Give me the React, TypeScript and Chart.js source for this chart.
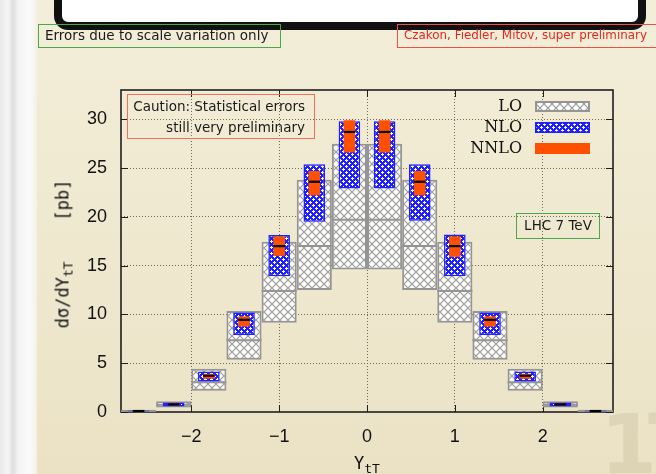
import { useEffect, useRef } from 'react';
import { Chart, registerables } from 'chart.js';

Chart.register(...registerables);

// Rapidity bins of the top-pair (bin centres, width 0.4)
const binCenters = [-2.6, -2.2, -1.8, -1.4, -1.0, -0.6, -0.2, 0.2, 0.6, 1.0, 1.4, 1.8, 2.2, 2.6];

// LO: scale-variation band and central value [pb]
const loLow = [0.02, 0.47, 2.18, 5.35, 9.14, 12.5, 14.6, 14.6, 12.5, 9.14, 5.35, 2.18, 0.47, 0.02];
const loCentral = [0.1, 0.75, 3.05, 7.35, 12.4, 17.0, 19.7, 19.7, 17.0, 12.4, 7.35, 3.05, 0.75, 0.1];
const loHigh = [0.22, 1.09, 4.42, 10.35, 17.45, 23.8, 27.5, 27.5, 23.8, 17.45, 10.35, 4.42, 1.09, 0.22];

// NLO: scale-variation band [pb]
const nloLow = [0.04, 0.57, 3.13, 7.9, 13.9, 19.5, 22.9, 22.9, 19.6, 13.9, 7.9, 3.13, 0.57, 0.04];
const nloHigh = [0.16, 0.98, 4.16, 10.2, 18.15, 25.4, 29.8, 29.8, 25.4, 18.2, 10.2, 4.16, 0.98, 0.16];

// NNLO: scale-variation band and central value [pb]
const nnloLow = [0.08, 0.7, 3.41, 8.76, 16.0, 22.2, 26.6, 26.6, 22.2, 15.9, 8.76, 3.41, 0.7, 0.08];
const nnloCentral = [0.1, 0.78, 3.72, 9.45, 17.0, 23.6, 28.7, 28.7, 23.6, 17.0, 9.45, 3.72, 0.78, 0.1];
const nnloHigh = [0.12, 0.86, 3.92, 9.8, 18.0, 24.7, 29.9, 29.9, 24.7, 18.0, 9.8, 3.92, 0.86, 0.12];

const xTicks = [-2, -1, 0, 1, 2];
const yTicks = [0, 5, 10, 15, 20, 25, 30];

const LO_FRAC = 1;
const NLO_FRAC = 0.615;
const NNLO_FRAC = 0.33;

const ORANGE = '#ff5000';
const BLUE = '#1f1fff';
const GREY = '#959595';

const binWidth = binCenters[1] - binCenters[0];

function halfWidthPx(chart: any, frac: number) {
  const s = chart.scales.x;
  if (!s) return 0;
  return (Math.abs(s.getPixelForValue(binWidth) - s.getPixelForValue(0)) * frac) / 2;
}

const bars = (lo: number[], hi: number[]) => binCenters.map((x, i) => ({ x, y: [lo[i], hi[i]] }));
const points = (v: number[]) => binCenters.map((x, i) => ({ x, y: v[i] }));

function makeCrossHatch(): CanvasPattern | string {
  const t = document.createElement('canvas');
  t.width = 8;
  t.height = 8;
  const c = t.getContext('2d');
  if (!c) return '#fff';
  c.fillStyle = '#fcfcfa';
  c.fillRect(0, 0, 8, 8);
  c.strokeStyle = '#9c9c9c';
  c.lineWidth = 1.2;
  c.beginPath();
  c.moveTo(-1, -1);
  c.lineTo(9, 9);
  c.moveTo(9, -1);
  c.lineTo(-1, 9);
  c.stroke();
  return c.createPattern(t, 'repeat') || '#fff';
}

function makeDotted(): CanvasPattern | string {
  const t = document.createElement('canvas');
  t.width = 6;
  t.height = 6;
  const c = t.getContext('2d');
  if (!c) return BLUE;
  c.fillStyle = BLUE;
  c.fillRect(0, 0, 6, 6);
  c.fillStyle = '#ffffff';
  c.fillRect(1, 0, 1, 3);
  c.fillRect(0, 1, 3, 1);
  c.fillRect(4, 3, 1, 3);
  c.fillRect(3, 4, 3, 1);
  return c.createPattern(t, 'repeat') || BLUE;
}

// Plot frame with inward tick marks on all four sides
const framePlugin = {
  id: 'gpFrame',
  beforeDatasetsDraw(chart: any) {
    const { ctx, chartArea: a, scales } = chart;
    ctx.save();
    ctx.strokeStyle = '#1e1e1e';
    ctx.lineWidth = 1;
    const t = 7;
    ctx.beginPath();
    for (const v of yTicks) {
      const y = Math.round(scales.y.getPixelForValue(v)) + 0.5;
      ctx.moveTo(a.left, y);
      ctx.lineTo(a.left + t, y);
      ctx.moveTo(a.right, y);
      ctx.lineTo(a.right - t, y);
    }
    for (const v of xTicks) {
      const x = Math.round(scales.x.getPixelForValue(v)) + 0.5;
      ctx.moveTo(x, a.bottom);
      ctx.lineTo(x, a.bottom - t);
      ctx.moveTo(x, a.top);
      ctx.lineTo(x, a.top + t);
    }
    ctx.stroke();
    ctx.lineWidth = 1.6;
    ctx.strokeRect(a.left, a.top, a.right - a.left, a.bottom - a.top);
    ctx.restore();
  },
};

function makeLegendPlugin(loFill: any, nloFill: any) {
  return {
    id: 'gpLegend',
    afterDraw(chart: any) {
      const { ctx, chartArea: a } = chart;
      const rows = [
        { label: 'LO', fill: loFill, stroke: GREY, lw: 2 },
        { label: 'NLO', fill: nloFill, stroke: BLUE, lw: 1.5 },
        { label: 'NNLO', fill: ORANGE, stroke: null, lw: 0 },
      ];
      const textRight = a.right - 91;
      const swLeft = a.right - 78;
      const swW = 55;
      const swH = 11;
      ctx.save();
      ctx.font = '16px "DejaVu Serif"';
      ctx.textAlign = 'right';
      ctx.textBaseline = 'middle';
      ctx.fillStyle = '#111';
      rows.forEach((r, i) => {
        const cy = a.top + 16 + i * 21;
        ctx.fillText(r.label, textRight, cy + 1);
        const y0 = Math.round(cy - swH / 2);
        ctx.fillStyle = r.fill;
        ctx.fillRect(swLeft, y0, swW, swH);
        if (r.stroke) {
          ctx.strokeStyle = r.stroke;
          ctx.lineWidth = r.lw;
          ctx.strokeRect(swLeft + r.lw / 2, y0 + r.lw / 2, swW - r.lw, swH - r.lw);
        }
        ctx.fillStyle = '#111';
      });
      ctx.restore();
    },
  };
}

const boxText = {
  position: 'absolute' as const,
  boxSizing: 'border-box' as const,
  fontFamily: '"DejaVu Sans", sans-serif',
  fontSize: '13.5px',
  whiteSpace: 'nowrap' as const,
  color: '#1a1a1a',
};

export default function App() {
  const canvasRef = useRef<HTMLCanvasElement>(null);

  useEffect(() => {
    const canvas = canvasRef.current;
    if (!canvas) return;
    const loFill = makeCrossHatch();
    const nloFill = makeDotted();

    const chart = new Chart(canvas, {
      type: 'bar',
      data: {
        datasets: [
          {
            type: 'line',
            label: 'NNLO central',
            data: points(nnloCentral),
            showLine: false,
            pointStyle: 'line',
            pointRadius: (c: any) => halfWidthPx(c.chart, NNLO_FRAC),
            pointBorderColor: '#000',
            pointBorderWidth: 2.2,
            order: 0,
          },
          {
            type: 'bar',
            label: 'NNLO',
            data: bars(nnloLow, nnloHigh),
            backgroundColor: ORANGE,
            borderWidth: 0,
            barPercentage: NNLO_FRAC,
            categoryPercentage: 1,
            grouped: false,
            inflateAmount: 0,
            order: 1,
          },
          {
            type: 'bar',
            label: 'NLO',
            data: bars(nloLow, nloHigh),
            backgroundColor: nloFill,
            borderColor: BLUE,
            borderWidth: 1.5,
            borderSkipped: false,
            barPercentage: NLO_FRAC,
            categoryPercentage: 1,
            grouped: false,
            inflateAmount: 0,
            order: 2,
          },
          {
            type: 'line',
            label: 'LO central',
            data: points(loCentral),
            showLine: false,
            pointStyle: 'line',
            pointRadius: (c: any) => halfWidthPx(c.chart, LO_FRAC),
            pointBorderColor: GREY,
            pointBorderWidth: 2,
            order: 3,
          },
          {
            type: 'bar',
            label: 'LO',
            data: bars(loLow, loHigh),
            backgroundColor: loFill,
            borderColor: GREY,
            borderWidth: 2,
            borderSkipped: false,
            barPercentage: LO_FRAC,
            categoryPercentage: 1,
            grouped: false,
            inflateAmount: 0,
            order: 4,
          },
        ] as any,
      },
      options: {
        responsive: false,
        animation: false,
        devicePixelRatio: 1,
        events: [],
        layout: { padding: { left: 0, top: 90, right: 43, bottom: 0 } },
        plugins: {
          legend: { display: false },
          tooltip: { enabled: false },
          title: { display: false },
        },
        scales: {
          x: {
            type: 'linear',
            min: -2.8,
            max: 2.8,
            offset: false,
            afterBuildTicks: (axis: any) => {
              axis.ticks = xTicks.map((v) => ({ value: v }));
            },
            afterFit: (axis: any) => {
              axis.height = 62;
            },
            grid: {
              offset: false,
              drawTicks: false,
              color: '#6f6a5e',
              lineWidth: 1,
            },
            border: { display: false, dash: [1, 2] },
            ticks: {
              padding: 14,
              maxRotation: 0,
              color: '#111',
              font: { family: '"Liberation Sans", sans-serif', size: 18 },
              callback: (v: any) => (Number(v) < 0 ? '\u2212' + Math.abs(Number(v)) : String(v)),
            },
          },
          y: {
            type: 'linear',
            min: 0,
            max: 33,
            afterBuildTicks: (axis: any) => {
              axis.ticks = yTicks.map((v) => ({ value: v }));
            },
            afterFit: (axis: any) => {
              axis.width = 121;
            },
            grid: {
              drawTicks: false,
              color: (c: any) => (c.tick && c.tick.value === 0 ? 'rgba(0,0,0,0)' : '#6f6a5e'),
              lineWidth: 1,
            },
            border: { display: false, dash: [1, 2] },
            ticks: {
              padding: 14,
              color: '#111',
              font: { family: '"Liberation Sans", sans-serif', size: 18 },
            },
          },
        },
      } as any,
      plugins: [framePlugin, makeLegendPlugin(loFill, nloFill)],
    });

    return () => chart.destroy();
  }, []);

  return (
    <div
      style={{
        position: 'absolute',
        left: 0,
        top: 0,
        width: 656,
        height: 474,
        overflow: 'hidden',
        background: 'linear-gradient(to bottom, #f3eed9 0%, #efe8cf 55%, #ebe2c5 100%)',
      }}
    >
      {/* slide edge on the left */}
      <div
        style={{
          position: 'absolute',
          left: 0,
          top: 0,
          width: 37,
          height: 474,
          background:
            'linear-gradient(to right, #e9e9e9 0px, #f5f5f5 8px, #dedede 13px, #f3f3f3 18px, #fbfbfb 30px, #f3f0e4 37px)',
        }}
      />
      {/* page number watermark */}
      <div
        style={{
          position: 'absolute',
          left: 600,
          top: 404,
          fontFamily: '"DejaVu Sans", sans-serif',
          fontWeight: 'bold',
          fontSize: 82,
          letterSpacing: -14,
          color: 'rgba(150,135,100,0.16)',
          lineHeight: 1,
        }}
      >
        17
      </div>
      {/* title panel */}
      <div
        style={{
          position: 'absolute',
          boxSizing: 'border-box',
          left: 54,
          top: -40,
          width: 592,
          height: 70,
          border: '8px solid #111',
          borderRadius: 14,
          background: '#fff',
        }}
      />
      <canvas
        ref={canvasRef}
        width={656}
        height={474}
        style={{ position: 'absolute', left: 0, top: 0, width: 656, height: 474 }}
      />
      <div
        style={{
          ...boxText,
          left: 38,
          top: 24,
          width: 243,
          height: 24,
          border: '1.5px solid #4aa84a',
          paddingLeft: 6,
          lineHeight: '21px',
        }}
      >
        Errors due to scale variation only
      </div>
      <div
        style={{
          ...boxText,
          left: 397,
          top: 24,
          width: 270,
          height: 24,
          border: '1.5px solid #f0504a',
          paddingLeft: 6,
          lineHeight: '21px',
          fontSize: '11.9px',
          color: '#e62820',
        }}
      >
        Czakon, Fiedler, Mitov, super preliminary
      </div>
      <div
        style={{
          ...boxText,
          left: 127,
          top: 94,
          width: 188,
          height: 45,
          border: '1.5px solid #f2705a',
          paddingRight: 9,
          paddingTop: 1,
          lineHeight: '21px',
          textAlign: 'right',
        }}
      >
        Caution: Statistical errors
        <br />
        still very preliminary
      </div>
      <div
        style={{
          ...boxText,
          left: 516,
          top: 213,
          width: 84,
          height: 26,
          border: '1.5px solid #4aa84a',
          lineHeight: '23px',
          textAlign: 'center',
        }}
      >
        LHC 7 TeV
      </div>
      {/* y-axis title */}
      <div
        style={{
          position: 'absolute',
          left: 63,
          top: 254,
          transform: 'translate(-50%, -50%) rotate(-90deg)',
          fontFamily: '"DejaVu Sans Mono", monospace',
          fontSize: 17,
          whiteSpace: 'pre',
          color: '#111',
          lineHeight: 1,
        }}
      >
        dσ/dY<span style={{ fontSize: 13, position: 'relative', top: 4 }}>tT</span>
        {'    [pb]'}
      </div>
      {/* x-axis title */}
      <div
        style={{
          position: 'absolute',
          left: 367,
          top: 455,
          transform: 'translateX(-50%)',
          fontFamily: '"DejaVu Sans Mono", monospace',
          fontSize: 17,
          whiteSpace: 'pre',
          color: '#111',
          lineHeight: 1,
        }}
      >
        Y<span style={{ fontSize: 13, position: 'relative', top: 4 }}>tT</span>
      </div>
    </div>
  );
}
